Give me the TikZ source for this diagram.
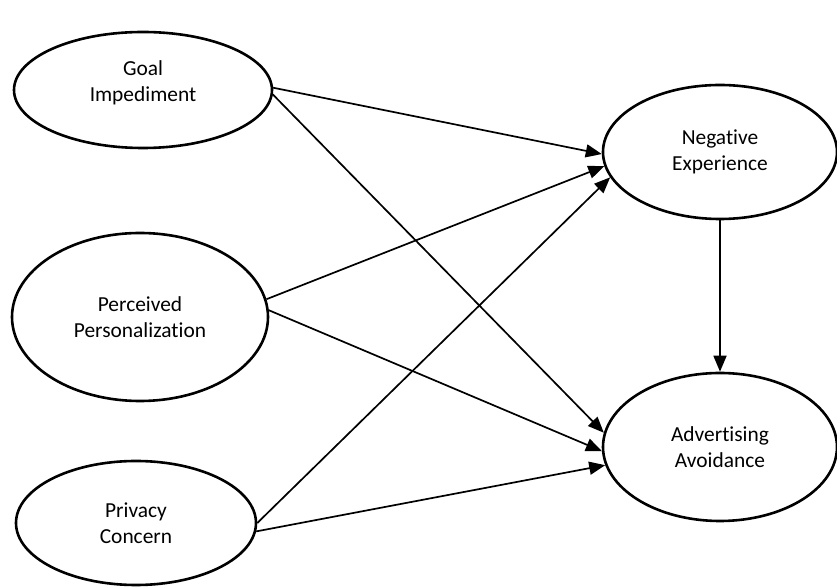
\documentclass[tikz,border=0pt]{standalone}
\usepackage{fontspec}
\setmainfont{Carlito}[Ligatures=NoCommon]
\usetikzlibrary{shapes.geometric}
\usetikzlibrary{arrows.meta}

\begin{document}
\begin{tikzpicture}[x=0.5pt,y=-0.5pt,
    construct/.style={ellipse, draw, line width=1.3pt, inner sep=0pt, align=center,
      font=\fontsize{10.7}{13}\selectfont},
    link/.style={line width=0.85pt, -{Triangle[length=8pt,width=6.5pt]}}
    ]
\useasboundingbox (0,0) rectangle (837,587);

% constructs on the left
\node[construct, minimum width=129pt, minimum height=58pt, text depth=9pt] (goal) at (143,90) {Goal\\Impediment};
\node[construct, minimum width=128pt, minimum height=84pt] (perc) at (140,317) {Perceived\\Personalization};
\node[construct, minimum width=120pt, minimum height=62pt] (priv) at (136,523) {Privacy\\Concern};

% outcomes on the right
\node[construct, minimum width=117pt, minimum height=67pt] (neg) at (720,152) {Negative\\Experience};
\node[construct, minimum width=117pt, minimum height=74pt] (adv) at (720,447) {Advertising\\Avoidance};

\draw[link] (goal.1) -- (neg.181);
\draw[link] (goal.-2) -- (adv.173);
\draw[link] (perc.8) -- (neg.187);
\draw[link] (perc.3) -- (adv.182);
\draw[link] (priv.0) -- (neg.193);
\draw[link] (priv.-4) -- (adv.189);
\draw[link] (neg.south) -- (adv.north);
\end{tikzpicture}
\end{document}
